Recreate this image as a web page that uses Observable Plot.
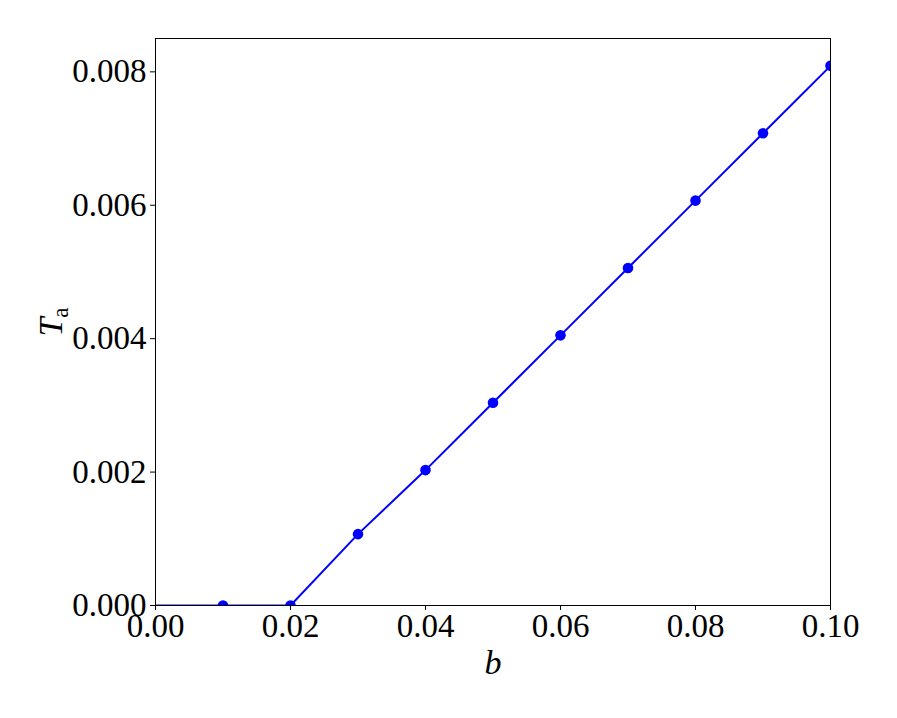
<!DOCTYPE html>
<html><head><meta charset="utf-8">
<script src="https://cdn.jsdelivr.net/npm/d3@7"></script>
<script src="https://cdn.jsdelivr.net/npm/@observablehq/plot@0.6"></script>
<style>body{margin:0;background:#fff;} svg{display:block;}</style>
</head><body><div id="chart"></div>
<script>
const bValues = [0.00, 0.01, 0.02, 0.03, 0.04, 0.05, 0.06, 0.07, 0.08, 0.09, 0.10];
const taValues = [0, 0, 0, 0.00107, 0.00203, 0.00304, 0.00405, 0.00506, 0.00607, 0.00708, 0.00809];
const xTicks = [0.00, 0.02, 0.04, 0.06, 0.08, 0.10];
const yTicks = [0.000, 0.002, 0.004, 0.006, 0.008];

const data = bValues.map((b, i) => ({b, t: taValues[i]}));
const dotData = data.filter(d => d.b > 0);
const font = "'Liberation Serif', 'DejaVu Serif', serif";

const plot = Plot.plot({
  width: 897, height: 718,
  marginLeft: 155, marginRight: 67, marginTop: 38, marginBottom: 113,
  style: {fontFamily: font, fontSize: "33px", background: "#fff", color: "#000"},
  x: {domain: [0, 0.10], label: null},
  y: {domain: [0, 0.0085], label: null},
  marks: [
    Plot.axisX({ticks: xTicks, tickFormat: d3.format(".2f"), tickSize: 5, tickPadding: 3, fontSize: 33, stroke: "#000", strokeWidth: 1}),
    Plot.axisY({ticks: yTicks, tickFormat: d3.format(".3f"), tickSize: 5, tickPadding: 4, fontSize: 33, stroke: "#000", strokeWidth: 1}),
    Plot.line(data, {x: "b", y: "t", stroke: "#0000ff", strokeWidth: 2, clip: true}),
    Plot.dot(dotData, {x: "b", y: "t", r: 5.3, fill: "#0000ff", stroke: "none", clip: true}),
    Plot.frame({stroke: "#000", strokeWidth: 1})
  ]
});
document.getElementById("chart").appendChild(plot);

const svg = d3.select(plot);
svg.append("text")
  .attr("x", 493).attr("y", 674)
  .attr("text-anchor", "middle")
  .style("font-family", font).style("font-size", "34px").style("font-style", "italic")
  .text("b");
const yl = svg.append("text")
  .attr("transform", "translate(62,322) rotate(-90)")
  .attr("text-anchor", "middle")
  .style("font-family", font).style("font-size", "34px");
yl.append("tspan").style("font-style", "italic").text("T");
yl.append("tspan").attr("dy", "6").style("font-size", "23px").text("a");
</script></body></html>
